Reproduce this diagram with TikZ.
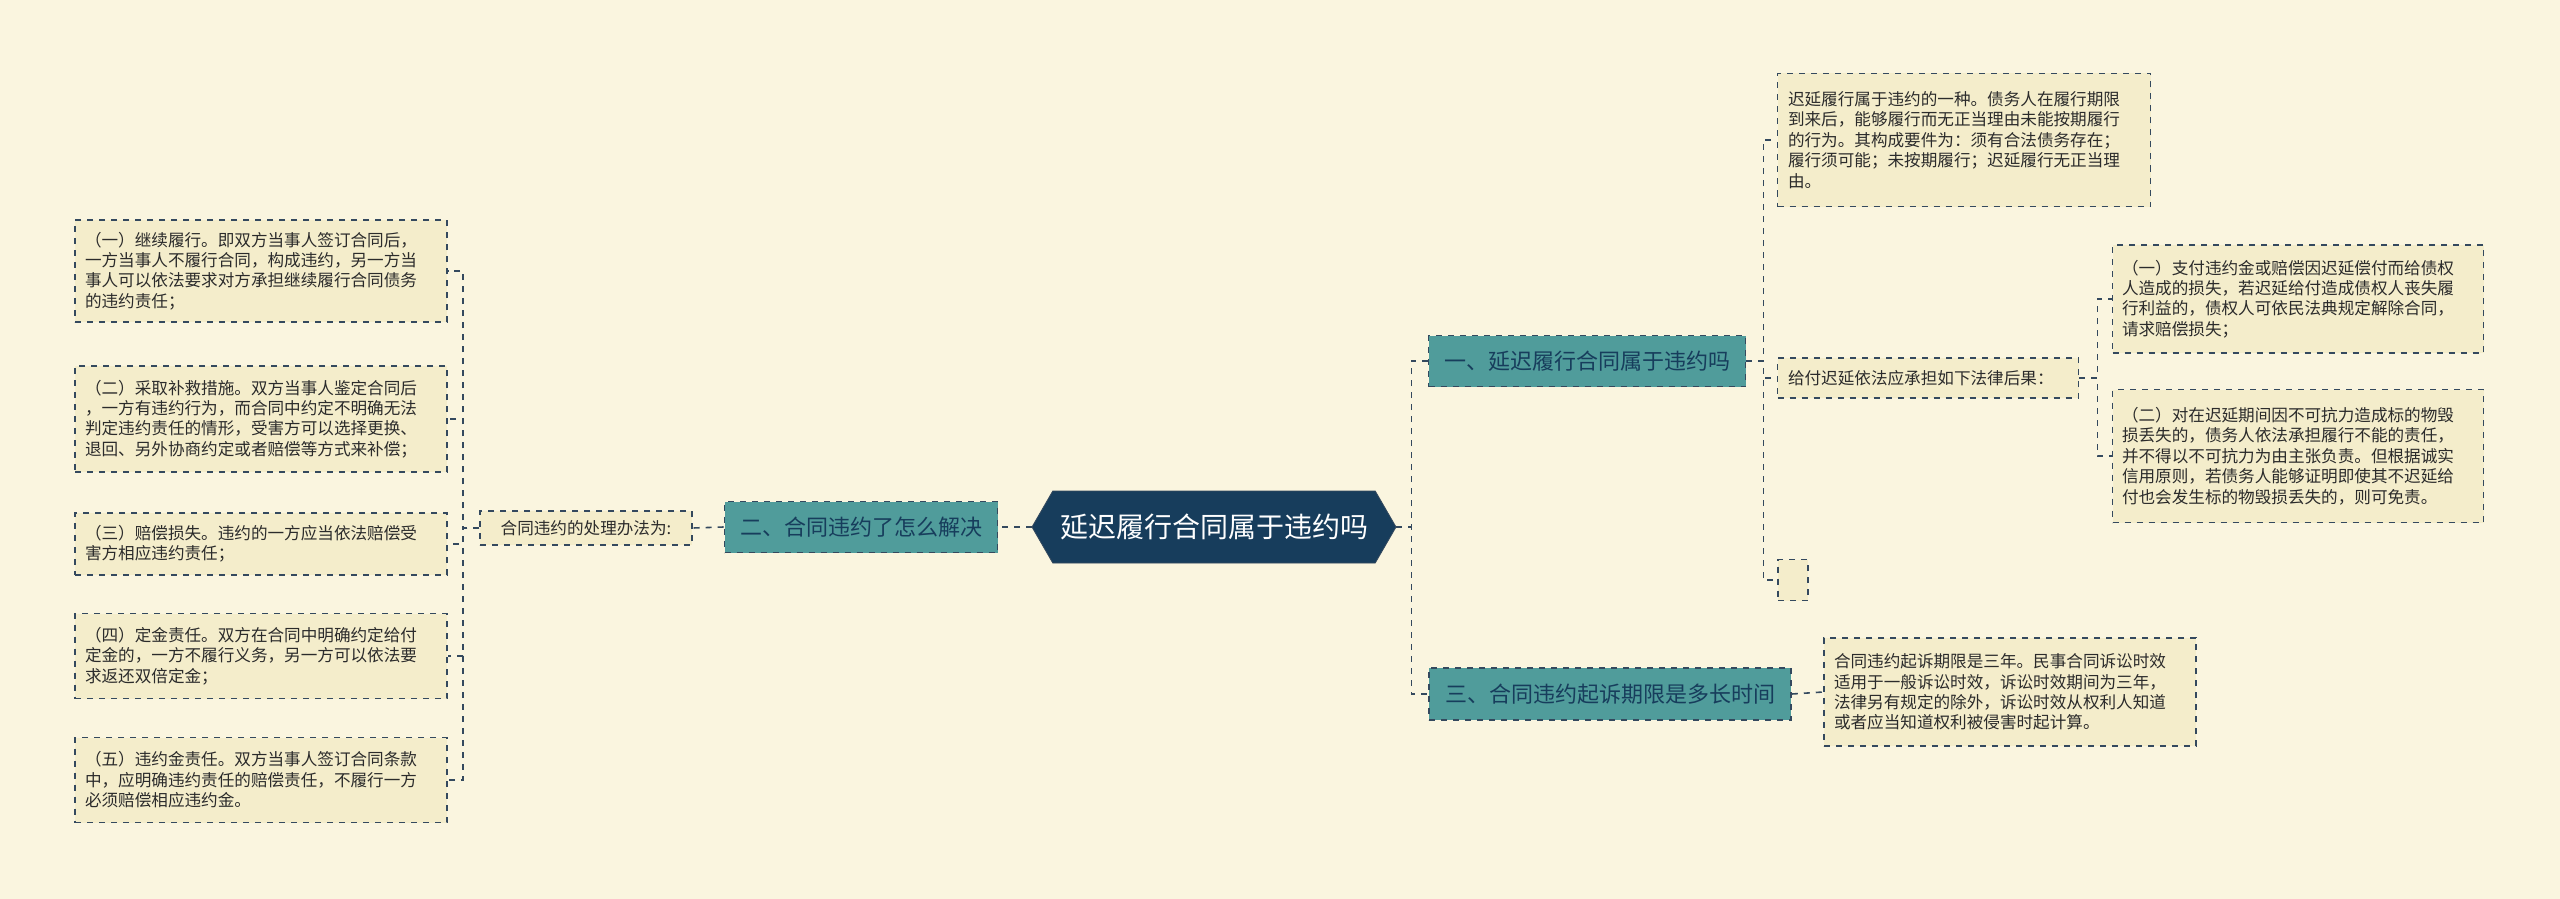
\documentclass[tikz,border=0pt]{standalone}
\usepackage{fontspec}
\setmainfont{Noto Sans CJK SC}
\usetikzlibrary{shapes.symbols}
\definecolor{bg}{HTML}{FAF5DF}
\definecolor{leaffill}{HTML}{F4EDCB}
\definecolor{teal}{HTML}{509C9B}
\definecolor{navy}{HTML}{173D5C}
\definecolor{lineclr}{HTML}{34495E}
\definecolor{txt}{HTML}{2B2B2B}
\tikzset{
  leaf/.style={draw=lineclr, dashed, line width=0.8pt, fill=leaffill, align=left, inner sep=0pt, text=txt, font=\fontsize{8.3pt}{10.2pt}\selectfont},
  branch/.style={draw=lineclr, dashed, line width=0.8pt, fill=teal, inner sep=0pt, text=navy, font=\fontsize{11pt}{13pt}\selectfont},
  conn/.style={draw=lineclr, dashed, line width=0.8pt},
}
\begin{document}
\begin{tikzpicture}[x=0.5pt,y=-0.5pt]
\fill[bg] (0,0) rectangle (2560,899);
\useasboundingbox (0,0) rectangle (2560,899);
% root
\node[signal, signal to=west and east, signal pointer angle=120, fill=navy, draw=lineclr, text=white, minimum width=182pt, minimum height=36pt, inner sep=0pt, font=\fontsize{14pt}{16pt}\selectfont] (root) at (1214,527) {延迟履行合同属于违约吗};
% left
\node[branch, minimum width=136.5pt, minimum height=25.5pt] (b2) at (861,527) {二、合同违约了怎么解决};
\node[leaf, minimum width=106pt, minimum height=17pt, align=center] (m2) at (586,528) {合同违约的处理办法为:};
\node[leaf, minimum width=186pt, minimum height=51pt] (l1) at (261,271) {\parbox{176pt}{（一）继续履行。即双方当事人签订合同后，\\一方当事人不履行合同，构成违约，另一方当\\事人可以依法要求对方承担继续履行合同债务\\的违约责任；}};
\node[leaf, minimum width=186pt, minimum height=53pt] (l2) at (261,419) {\parbox{176pt}{（二）采取补救措施。双方当事人鉴定合同后\\，一方有违约行为，而合同中约定不明确无法\\判定违约责任的情形，受害方可以选择更换、\\退回、另外协商约定或者赔偿等方式来补偿；}};
\node[leaf, minimum width=186pt, minimum height=31pt] (l3) at (261,544) {\parbox{176pt}{（三）赔偿损失。违约的一方应当依法赔偿受\\害方相应违约责任；}};
\node[leaf, minimum width=186pt, minimum height=42.5pt] (l4) at (261,656) {\parbox{176pt}{（四）定金责任。双方在合同中明确约定给付\\定金的，一方不履行义务，另一方可以依法要\\求返还双倍定金；}};
\node[leaf, minimum width=186pt, minimum height=42.5pt] (l5) at (261,780) {\parbox{176pt}{（五）违约金责任。双方当事人签订合同条款\\中，应明确违约责任的赔偿责任，不履行一方\\必须赔偿相应违约金。}};
% right
\node[branch, minimum width=158.5pt, minimum height=25.5pt] (b1) at (1587,361) {一、延迟履行合同属于违约吗};
\node[branch, minimum width=181pt, minimum height=26pt] (b3) at (1610,694) {三、合同违约起诉期限是多长时间};
\node[leaf, minimum width=186.5pt, minimum height=66.5pt] (ra) at (1964,140) {\parbox{176pt}{迟延履行属于违约的一种。债务人在履行期限\\到来后，能够履行而无正当理由未能按期履行\\的行为。其构成要件为：须有合法债务存在；\\履行须可能；未按期履行；迟延履行无正当理\\由。}};
\node[leaf, minimum width=150.5pt, minimum height=20pt] (rm) at (1928,378) {\parbox{140pt}{给付迟延依法应承担如下法律后果：}};
\node[leaf, minimum width=15pt, minimum height=20.5pt] (re) at (1793,580) {};
\node[leaf, minimum width=185.5pt, minimum height=54pt] (s1) at (2298,299) {\parbox{176pt}{（一）支付违约金或赔偿因迟延偿付而给债权\\人造成的损失，若迟延给付造成债权人丧失履\\行利益的，债权人可依民法典规定解除合同，\\请求赔偿损失；}};
\node[leaf, minimum width=185.5pt, minimum height=66.5pt] (s2) at (2298,456) {\parbox{176pt}{（二）对在迟延期间因不可抗力造成标的物毁\\损丢失的，债务人依法承担履行不能的责任，\\并不得以不可抗力为由主张负责。但根据诚实\\信用原则，若债务人能够证明即使其不迟延给\\付也会发生标的物毁损丢失的，则可免责。}};
\node[leaf, minimum width=186pt, minimum height=54pt] (r3) at (2010,692) {\parbox{176pt}{合同违约起诉期限是三年。民事合同诉讼时效\\适用于一般诉讼时效，诉讼时效期间为三年，\\法律另有规定的除外，诉讼时效从权利人知道\\或者应当知道权利被侵害时起计算。}};
% connectors
\draw[conn] (root.west) -- (b2.east);
\draw[conn] (b2.west) -- (m2.east);
\foreach \n in {l1,l2,l3,l4,l5} \draw[conn] (m2.west) -- ++(-16,0) |- (\n.east);
\draw[conn] (root.east) -- ++(15,0) |- (b1.west);
\draw[conn] (root.east) -- ++(15,0) |- (b3.west);
\foreach \n in {ra,rm,re} \draw[conn] (b1.east) -- ++(17,0) |- (\n.west);
\foreach \n in {s1,s2} \draw[conn] (rm.east) -- ++(18,0) |- (\n.west);
\draw[conn] (b3.east) -- (r3.west);
\end{tikzpicture}
\end{document}
